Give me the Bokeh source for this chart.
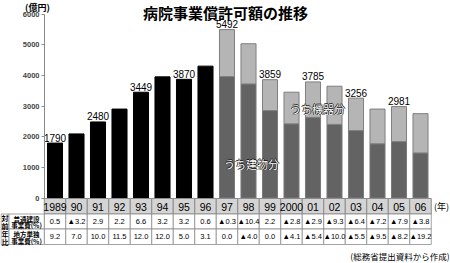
from bokeh.plotting import figure
from bokeh.models import ColumnDataSource, LinearAxis, Range1d, FixedTicker
from bokeh.core.properties import value
from bokeh.embed import file_html
from bokeh.resources import INLINE

# ---------------- data ----------------
years = ["1989", "90", "91", "92", "93", "94", "95", "96", "97", "98",
         "99", "2000", "01", "02", "03", "04", "05", "06"]
total = [1790, 2090, 2480, 2900, 3449, 3950, 3870, 4300, 5492, 5030,
         3859, 3450, 3785, 3645, 3256, 2900, 2981, 2750]
# building part (うち建物分), only split from 1997
split_years = ["97", "98", "99", "2000", "01", "02", "03", "04", "05", "06"]
building = [3960, 3720, 2850, 2420, 2630, 2400, 2200, 1770, 1840, 1470]
labelled_years = ["1989", "91", "93", "95", "97", "99", "01", "03", "05"]
row1 = ["0.5", "▲3.2", "2.9", "2.2", "6.6", "3.2", "3.2", "0.6", "▲0.3", "▲10.4",
        "2.2", "▲2.8", "▲2.9", "▲9.3", "▲6.4", "▲7.2", "▲7.9", "▲3.8"]
row2 = ["9.2", "7.0", "10.0", "11.5", "12.0", "12.0", "5.0", "3.1", "0.0", "▲4.0",
        "0.0", "▲4.1", "▲5.4", "▲10.0", "▲5.5", "▲9.5", "▲8.2", "▲19.2"]
row_labels = [["普通建設", "事業費(%)"], ["地方単独", "事業費(%)"]]
side_label = ["対", "前", "年", "比"]
title = "病院事業償許可額の推移"
unit = "(億円)"
year_unit = "(年)"
source_note = "(総務省提出資料から作成)"

# ---------------- layout ----------------
W, H = 450, 263
PX0, PITCH = 54.5, 21.5          # px of first bar centre, px per category
Y0PX, K = 197.5, 184 / 6000      # px of value 0, px per unit


def xd(px):
    return (px - PX0) / PITCH


def yd(py):
    return (Y0PX - py) / K


JP = value("Noto Sans CJK JP")
NUM = value("Liberation Sans")

p = figure(width=W, height=H, output_backend="svg", toolbar_location=None,
           x_range=Range1d(xd(0), xd(W)), y_range=Range1d(yd(H), yd(0)),
           x_axis_location=None, y_axis_location=None, min_border=0,
           outline_line_color=None, background_fill_color="white")
p.grid.visible = False

n = len(years)
idx = list(range(n))
pos = {y: i for i, y in enumerate(years)}

# black bars (1989-96)
early = [i for i in idx if years[i] not in split_years]
p.vbar(x=early, top=[total[i] for i in early], bottom=0, width=0.7,
       fill_color="black", line_color="black")

# split bars
sx = [pos[y] for y in split_years]
stot = [total[pos[y]] for y in split_years]
p.vbar(x=sx, top=building, bottom=0, width=0.7,
       fill_color="#636363", line_color="#7a7a7a", line_width=1)
p.vbar(x=sx, top=stot, bottom=building, width=0.7,
       fill_color="#b5b5b5", line_color="#7f7f7f", line_width=1)

# value labels
lx = [pos[y] for y in labelled_years]
lt = [total[pos[y]] for y in labelled_years]
p.text(x=lx, y=[t + 1.5 / K for t in lt], text=[str(t) for t in lt],
       text_align="center", text_baseline="bottom", text_font=NUM,
       text_font_size="10px", text_color="black")

# inner labels: dark halo then white text
inner = [(251, 163, "うち建物分"), (317, 108, "うち機器分")]
for cx, cy, txt in inner:
    for dx, dy in [(-0.8, 0), (0.8, 0), (0, -0.8), (0, 0.8)]:
        p.text(x=[xd(cx)], y=[yd(cy)], text=[txt], x_offset=dx, y_offset=dy,
               text_align="center", text_baseline="middle", text_font=JP,
               text_font_size="11px", text_color="#1a1a1a")
    p.text(x=[xd(cx)], y=[yd(cy)], text=[txt], text_align="center",
           text_baseline="middle", text_font=JP, text_font_size="11px",
           text_color="white")

# y axis
ax = LinearAxis(fixed_location=xd(44), bounds=(0, 6000),
                ticker=FixedTicker(ticks=[0, 1000, 2000, 3000, 4000, 5000, 6000]))
ax.axis_line_color = "#8a8a8a"
ax.major_tick_line_color = "#8a8a8a"
ax.major_tick_in = 0
ax.major_tick_out = 3
ax.minor_tick_line_color = None
ax.major_label_standoff = 2
ax.major_label_text_font = "Liberation Sans"
ax.major_label_text_font_size = "7.5px"
ax.major_label_text_font_style = "bold"
p.add_layout(ax, "left")

# table: year row
ytop, ymid1, ymid2, ybot = yd(198), yd(213.5), yd(228.5), yd(244)
p.quad(left=[i - 0.5 for i in idx], right=[i + 0.5 for i in idx],
       top=ytop, bottom=ymid1, fill_color="#d4d4d4", line_color="#8c8c8c",
       line_width=1)
p.text(x=idx, y=yd(206), text=years, text_align="center", text_baseline="middle",
       text_font=NUM, text_font_size="10.5px", text_color="black")
p.text(x=[xd(441)], y=[yd(206)], text=[year_unit], text_align="center",
       text_baseline="middle", text_font=JP, text_font_size="9px", text_color="black")

# table: data rows
for top, bot, vals in [(ymid1, ymid2, row1), (ymid2, ybot, row2)]:
    p.quad(left=[i - 0.5 for i in idx], right=[i + 0.5 for i in idx],
           top=top, bottom=bot, fill_color="white", line_color="#8c8c8c",
           line_width=0.8)
    p.text(x=idx, y=(top + bot) / 2, text=vals, text_align="center",
           text_baseline="middle", text_font=NUM, text_font_size="7.5px",
           text_color="black")
    p.quad(left=[xd(0.5)], right=[xd(8.5)], top=top, bottom=bot,
           fill_color="white", line_color="#8c8c8c", line_width=0.8)
    p.quad(left=[xd(8.5)], right=[-0.5], top=top, bottom=bot,
           fill_color="white", line_color="#8c8c8c", line_width=0.8)

# row labels
for (top, bot), lab in zip([(ymid1, ymid2), (ymid2, ybot)], row_labels):
    h = top - bot
    p.text(x=[xd(26), xd(26)], y=[top - h * 0.3, top - h * 0.75], text=lab,
           text_align="center", text_baseline="middle", text_font=JP,
           text_font_size="6.5px", text_font_style="bold", text_color="black")
p.text(x=[xd(4.5)] * 4, y=[yd(217), yd(225), yd(233), yd(241)], text=side_label,
       text_align="center", text_baseline="middle", text_font=JP,
       text_font_size="7px", text_font_style="bold", text_color="black")

# titles and notes
p.text(x=[xd(225)], y=[yd(12)], text=[title], text_align="center",
       text_baseline="middle", text_font=JP, text_font_size="15px",
       text_font_style="bold", text_color="black")
p.text(x=[xd(37)], y=[yd(7)], text=[unit], text_align="center",
       text_baseline="middle", text_font=JP, text_font_size="9px",
       text_font_style="bold", text_color="black")
p.text(x=[xd(449)], y=[yd(255)], text=[source_note], text_align="right",
       text_baseline="middle", text_font=JP, text_font_size="8.5px",
       text_color="black")

open("out.html", "w").write(file_html(p, INLINE))
